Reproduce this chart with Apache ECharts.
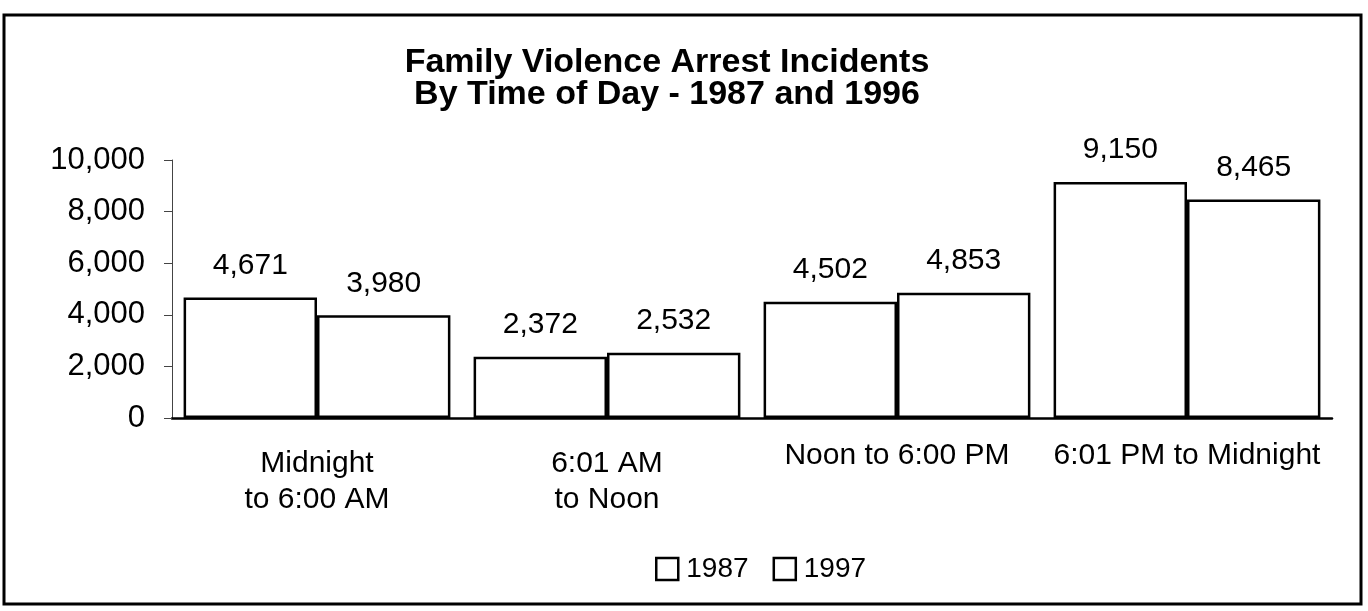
<!DOCTYPE html>
<html>
<head>
<meta charset="utf-8">
<script src="https://cdn.jsdelivr.net/npm/echarts@6/dist/echarts.min.js"></script>
<style>
  html, body { margin: 0; padding: 0; background: #fff; }
  #chart { width: 1368px; height: 611px; }
</style>
</head>
<body>
<div id="chart"></div>
<script>
// Arrest incidents by time of day
const categories = ['Midnight\nto 6:00 AM', '6:01 AM\nto Noon', 'Noon to 6:00 PM', '6:01 PM to Midnight'];
const seriesNames = ['1987', '1997'];
const values1987 = [4671, 2372, 4502, 9150];
const values1997 = [3980, 2532, 4853, 8465];
const yTicks = { min: 0, max: 10000, interval: 2000 };

const FONT = '"Liberation Sans", Arial, sans-serif';
const fmt = v => Number(v).toLocaleString('en-US');

const chart = echarts.init(document.getElementById('chart'));

// single-line category labels sit a little higher than the two-line ones
const categoryItems = categories.map(c => (
  c.indexOf('\n') >= 0 ? c : { value: c, textStyle: { lineHeight: 20 } }
));

function barSeries(name, data) {
  return {
    name: name,
    type: 'bar',
    data: data,
    barGap: '0%',
    barCategoryGap: '8%',
    itemStyle: { color: '#ffffff', borderColor: '#000000', borderWidth: 2.5 },
    label: {
      show: true,
      position: 'top',
      distance: 17,
      fontFamily: FONT,
      fontSize: 30,
      color: '#000',
      formatter: p => fmt(p.value)
    },
    emphasis: { disabled: true }
  };
}

chart.setOption({
  animation: false,
  backgroundColor: '#ffffff',
  title: {
    text: 'Family Violence Arrest Incidents\nBy Time of Day - 1987 and 1996',
    left: 662,
    top: 42,
    textAlign: 'center',
    textStyle: { fontFamily: FONT, fontSize: 34, fontWeight: 'bold', color: '#000', lineHeight: 32 }
  },
  graphic: [{
    type: 'rect',
    shape: { x: 4, y: 15, width: 1357, height: 589 },
    style: { fill: 'none', stroke: '#000', lineWidth: 3 },
    silent: true
  }],
  legend: {
    data: seriesNames,
    left: 650,
    top: 550,
    itemWidth: 22,
    itemHeight: 22,
    itemGap: 24,
    icon: 'rect',
    itemStyle: { color: '#fff', borderColor: '#000', borderWidth: 2.5 },
    textStyle: { fontFamily: FONT, fontSize: 28, color: '#000', padding: [0, 0, 0, 3] }
  },
  grid: { left: 172, right: 36, top: 160, bottom: 193, containLabel: false },
  xAxis: {
    type: 'category',
    data: categoryItems,
    axisLine: { lineStyle: { color: '#000', width: 2.5 } },
    axisTick: { show: false },
    axisLabel: { margin: 28, fontFamily: FONT, fontSize: 30, color: '#000', lineHeight: 36, interval: 0 }
  },
  yAxis: {
    type: 'value',
    min: yTicks.min,
    max: yTicks.max,
    interval: yTicks.interval,
    axisLine: { show: true, lineStyle: { color: '#444', width: 1 } },
    axisTick: { show: true, length: 8, lineStyle: { color: '#444', width: 1 } },
    splitLine: { show: false },
    axisLabel: { margin: 27, fontFamily: FONT, fontSize: 31, color: '#000', formatter: v => fmt(v) }
  },
  series: [barSeries(seriesNames[0], values1987), barSeries(seriesNames[1], values1997)]
});
</script>
</body>
</html>
